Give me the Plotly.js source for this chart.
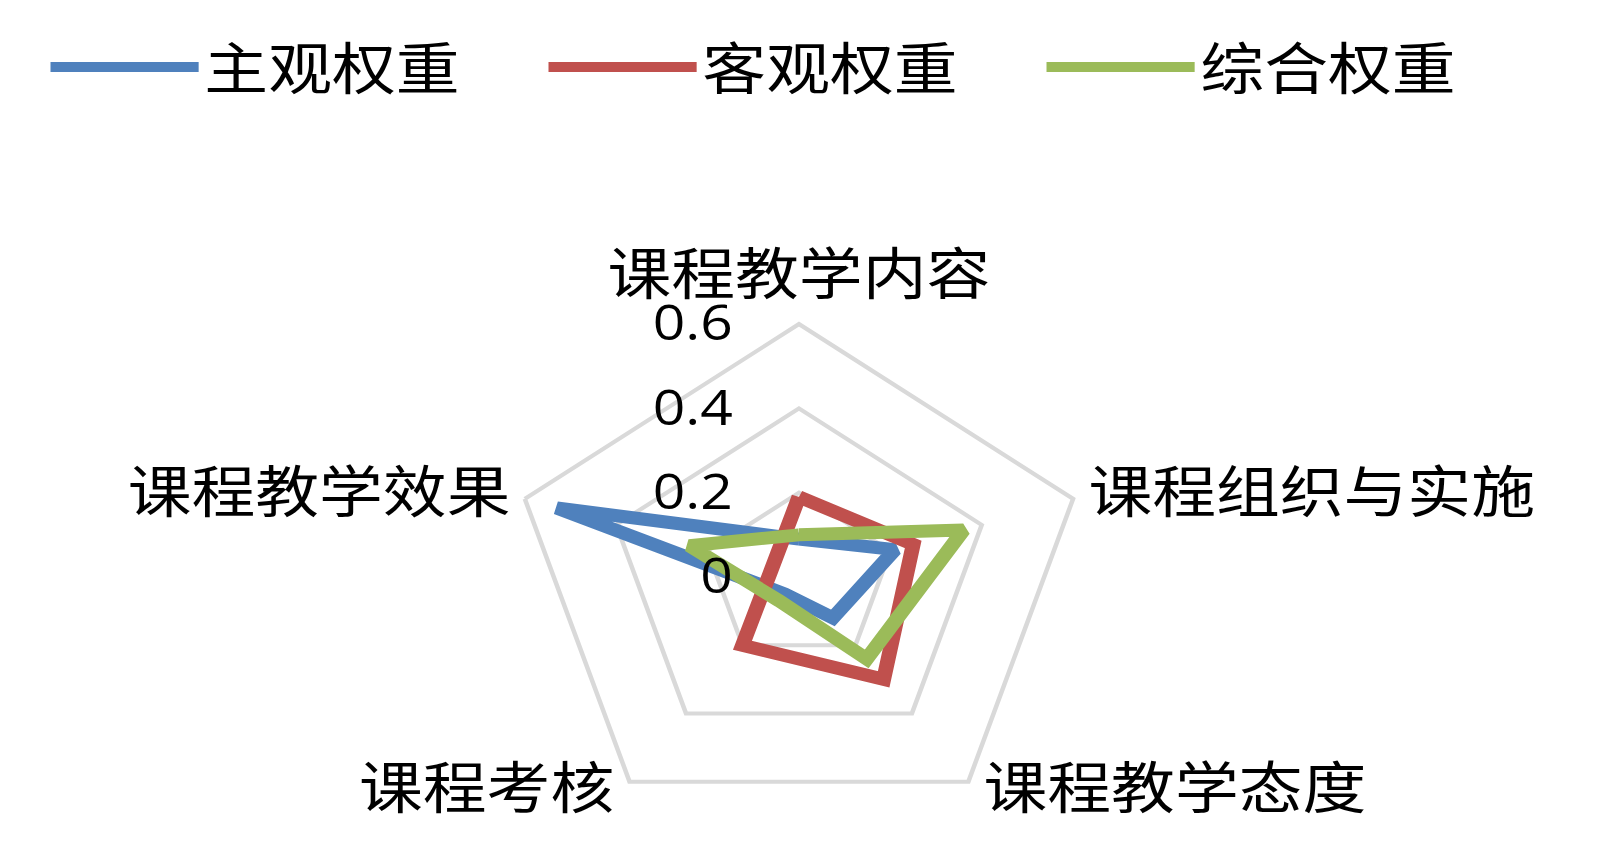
<!DOCTYPE html>
<html><head><meta charset="utf-8">
<script src="https://cdn.plot.ly/plotly-3.0.1.min.js"></script>
<style>
html,body{margin:0;padding:0;background:#fff;overflow:hidden;width:1600px;height:863px;}
#chart{width:1404px;height:863px;transform:scaleX(1.1396);transform-origin:0 0;}
</style></head><body><div id="chart"></div>
<script>
const categories = ['课程教学内容','课程组织与实施','课程教学态度','课程考核','课程教学效果'];
const subjectiveWeights = [0.09, 0.21, 0.12, 0.05, 0.53];
const objectiveWeights  = [0.19, 0.25, 0.30, 0.20, 0.06];
const combinedWeights   = [0.10, 0.36, 0.24, 0.07, 0.24];
const seriesNames = ['主观权重', '客观权重', '综合权重'];
const seriesColors = ['#4F81BD', '#C0504D', '#9BBB59'];
const radialTickValues = [0, 0.2, 0.4, 0.6];
const radialTickLabels = ['0', '0.2', '0.4', '0.6'];

const allSeries = [subjectiveWeights, objectiveWeights, combinedWeights];
const closed = arr => arr.concat([arr[0]]);
const cjk = '"Noto Sans CJK SC", "Noto Sans", sans-serif';

const traces = allSeries.map((vals, i) => ({
  type: 'scatterpolar',
  mode: 'lines',
  r: closed(vals),
  theta: closed(categories),
  name: seriesNames[i],
  line: {color: seriesColors[i], width: 13, shape: 'linear'},
  hoverinfo: 'skip'
}));

// polar subplot placement
const polarDomain = {x: [0.3192, 0.6795], y: [0.0382, 0.6246]};
const cxp = (polarDomain.x[0] + polarDomain.x[1]) / 2;
const cyp = (polarDomain.y[0] + polarDomain.y[1]) / 2;
const rxp = (polarDomain.x[1] - polarDomain.x[0]) / 2;
const ryp = (polarDomain.y[1] - polarDomain.y[0]) / 2;

// category labels placed just outside each spoke end (Excel-style)
const categoryLabels = categories.map((name, i) => {
  const th = (90 - 360 / categories.length * i) * Math.PI / 180;
  const cs = Math.cos(th), sn = Math.sin(th);
  const centred = Math.abs(cs) < 0.1;
  return {
    xref: 'paper', yref: 'paper',
    x: cxp + rxp * cs, y: cyp + ryp * sn,
    text: name, showarrow: false,
    xanchor: centred ? 'center' : (cs > 0 ? 'left' : 'right'),
    yanchor: 'middle',
    xshift: centred ? 0 : (cs > 0 ? 11 : -11),
    yshift: centred ? 54 : (sn > 0 ? 11 : -2),
    font: {family: cjk, size: 56, color: '#000000'}
  };
});

const layout = {
  width: 1404, height: 863,
  margin: {l: 0, r: 0, t: 0, b: 0},
  paper_bgcolor: '#ffffff',
  plot_bgcolor: '#ffffff',
  showlegend: true,
  legend: {
    orientation: 'h',
    x: 0.028, xanchor: 'left',
    y: 0.972, yanchor: 'top',
    font: {family: cjk, size: 56, color: '#000000'},
    itemwidth: 130,
    entrywidth: 292,
    traceorder: 'normal'
  },
  annotations: categoryLabels,
  polar: {
    domain: polarDomain,
    bgcolor: 'rgba(0,0,0,0)',
    gridshape: 'linear',
    radialaxis: {
      range: [0, 0.6],
      angle: 90,
      side: 'counterclockwise',
      tickangle: 90,
      tickvals: radialTickValues,
      ticktext: radialTickLabels,
      tickfont: {family: '"Open Sans", sans-serif', size: 50, color: '#000000'},
      ticks: 'outside', ticklen: 40, tickcolor: 'rgba(0,0,0,0)',
      showline: false,
      showgrid: true,
      gridcolor: '#D9D9D9', gridwidth: 4
    },
    angularaxis: {
      direction: 'clockwise',
      rotation: 90,
      showticklabels: false,
      ticks: '', ticklen: 0,
      showgrid: false,
      showline: true,
      linecolor: '#D9D9D9', linewidth: 4
    }
  }
};

Plotly.newPlot('chart', traces, layout, {staticPlot: true, displayModeBar: false});
</script></body></html>
